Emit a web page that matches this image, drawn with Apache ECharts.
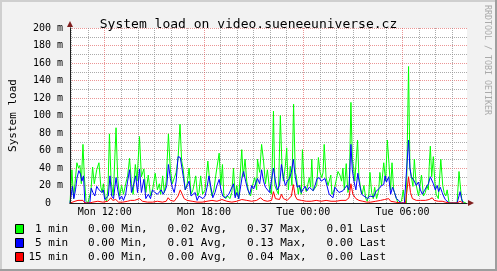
<!DOCTYPE html>
<html><head><meta charset="utf-8">
<script src="https://cdn.jsdelivr.net/npm/echarts@6/dist/echarts.min.js"></script>
<style>html,body{margin:0;padding:0;background:#f2f2f2}#c{width:497px;height:271px}</style>
</head><body><div id="c"></div>
<script>
const TITLE = 'System load on video.sueneeuniverse.cz';
const Y_NAME = 'System load';
const WATERMARK = 'RRDTOOL / TOBI OETIKER';
// window start: Mon 09:54 (minutes since Mon 00:00), window length 24 h
const START_MIN = 594;
const SPAN_MIN = 1440;
const DAYS = ['Mon', 'Tue'];
const xTickLabels = ['Mon 12:00', 'Mon 18:00', 'Tue 00:00', 'Tue 06:00'];
const yMax = 200, yStep = 20;

const seriesNames = ['1 min', '5 min', '15 min'];
const seriesColors = ['#00ff00', '#0000ff', '#ff0000'];
const statMin = ['0.00', '0.00', '0.00'];
const statAvg = ['0.02', '0.01', '0.00'];
const statMax = ['0.37', '0.13', '0.04'];
const statLast = ['0.01', '0.00', '0.00'];

// [minutes since window start, load in milli]
const load1 = [[0,0],[4,0],[7,38],[13,5],[18,22],[25,46],[31,40],[36,43],[41,22],[47,67],[52,30],[58,3],[65,0],[72,0],[76,14],[82,41],[88,22],[97,38],[105,46],[112,18],[117,12],[121,22],[128,5],[133,2],[138,18],[143,79],[149,25],[157,8],[167,86],[173,28],[180,8],[187,20],[194,10],[202,22],[209,31],[216,51],[223,22],[229,10],[237,44],[243,25],[252,76],[259,30],[268,39],[275,12],[284,32],[292,8],[299,14],[309,34],[317,15],[324,22],[329,10],[336,31],[342,12],[349,25],[357,79],[364,38],[371,22],[378,20],[385,35],[392,51],[399,90],[405,48],[410,40],[418,15],[425,22],[432,40],[439,10],[446,15],[456,31],[463,8],[468,12],[474,31],[481,10],[490,15],[500,48],[508,20],[515,8],[522,15],[529,32],[541,57],[547,20],[553,44],[558,8],[565,5],[572,8],[580,5],[587,12],[593,40],[599,8],[605,20],[612,5],[623,61],[628,30],[635,50],[641,25],[648,12],[655,8],[662,20],[670,29],[677,15],[680,50],[688,35],[695,67],[702,48],[709,22],[716,38],[724,15],[731,10],[738,105],[743,20],[749,15],[756,10],[763,100],[769,40],[774,25],[781,42],[786,63],[792,15],[799,42],[805,20],[811,113],[817,35],[821,31],[828,10],[833,20],[839,10],[843,61],[850,20],[857,13],[862,15],[868,29],[873,18],[877,50],[882,14],[889,12],[895,20],[901,52],[907,35],[913,29],[918,35],[922,67],[929,29],[936,20],[946,32],[950,10],[958,15],[965,25],[972,36],[979,32],[985,25],[990,40],[995,15],[1002,45],[1008,12],[1013,20],[1019,115],[1024,50],[1029,40],[1033,25],[1043,72],[1048,30],[1055,15],[1060,10],[1066,20],[1073,5],[1078,2],[1084,10],[1088,35],[1094,12],[1100,5],[1105,18],[1112,5],[1120,15],[1124,35],[1130,20],[1138,46],[1145,25],[1151,72],[1157,45],[1163,15],[1168,46],[1174,15],[1178,15],[1184,5],[1190,0],[1195,0],[1202,2],[1209,15],[1213,3],[1220,0],[1228,156],[1233,40],[1238,30],[1244,19],[1249,50],[1256,20],[1264,8],[1271,10],[1275,32],[1282,8],[1289,12],[1294,20],[1300,15],[1303,42],[1307,65],[1312,30],[1318,53],[1323,25],[1328,10],[1336,5],[1345,50],[1352,20],[1357,12],[1363,8],[1368,15],[1375,0],[1382,0],[1390,0],[1397,0],[1404,0],[1411,36],[1417,15],[1422,2],[1429,0],[1436,0]];

const load5 = [[0,0],[5,0],[9,19],[14,5],[20,15],[25,28],[32,37],[38,33],[43,25],[49,31],[54,0],[61,0],[72,0],[77,17],[83,12],[90,8],[97,19],[103,16],[108,15],[115,12],[121,15],[126,4],[133,4],[139,8],[145,31],[151,8],[158,5],[167,29],[173,15],[180,4],[187,8],[194,3],[202,10],[209,25],[216,38],[223,12],[230,20],[238,31],[245,12],[252,39],[259,12],[268,27],[275,5],[284,10],[292,5],[299,15],[308,12],[317,10],[324,8],[331,15],[338,10],[346,15],[351,20],[357,44],[364,28],[371,18],[378,12],[385,25],[392,53],[400,52],[407,50],[412,28],[418,15],[425,20],[432,25],[439,8],[446,10],[454,12],[461,3],[468,8],[475,10],[482,5],[490,8],[497,18],[504,31],[511,18],[518,6],[526,12],[533,20],[541,27],[547,16],[554,8],[562,6],[569,8],[576,10],[583,8],[593,22],[599,6],[605,12],[612,5],[617,15],[625,31],[630,36],[637,25],[644,16],[652,10],[659,20],[666,16],[673,15],[680,28],[688,22],[695,38],[702,25],[709,18],[716,16],[724,12],[731,10],[738,40],[745,25],[752,15],[760,20],[767,44],[774,30],[781,20],[788,25],[796,28],[803,35],[810,50],[817,30],[824,18],[832,20],[839,12],[846,16],[853,19],[860,14],[868,18],[875,16],[882,14],[889,20],[896,28],[904,29],[911,25],[918,27],[925,28],[932,20],[940,10],[947,8],[954,6],[961,18],[968,20],[976,12],[983,10],[990,14],[997,17],[1004,20],[1012,15],[1019,67],[1024,38],[1030,25],[1037,15],[1044,34],[1051,20],[1058,10],[1066,8],[1073,6],[1080,5],[1087,8],[1094,6],[1102,7],[1109,13],[1116,15],[1123,17],[1130,20],[1138,21],[1143,31],[1148,24],[1156,30],[1163,10],[1170,18],[1177,12],[1184,5],[1192,3],[1199,0],[1206,2],[1213,0],[1220,0],[1228,72],[1233,40],[1238,30],[1244,32],[1249,25],[1256,20],[1264,24],[1271,15],[1278,10],[1285,14],[1292,16],[1300,22],[1307,30],[1313,32],[1318,22],[1325,15],[1332,20],[1337,13],[1343,18],[1350,12],[1355,8],[1361,4],[1368,2],[1375,0],[1404,0],[1411,8],[1415,13],[1420,5],[1426,0]];

const load15 = [[0,0],[7,1],[18,2],[29,3],[36,3],[47,3],[54,0],[72,0],[83,1],[101,2],[119,1],[137,2],[148,6],[155,3],[166,4],[176,1],[191,1],[209,2],[220,3],[234,3],[252,5],[263,2],[281,1],[299,1],[317,2],[335,1],[349,2],[356,6],[364,3],[378,2],[392,8],[400,15],[407,10],[414,5],[425,3],[443,2],[461,1],[479,1],[497,2],[515,3],[533,2],[551,4],[569,2],[587,1],[605,2],[623,4],[641,3],[659,2],[677,3],[691,6],[702,3],[716,2],[731,3],[738,13],[745,5],[760,4],[767,10],[774,5],[788,3],[803,8],[810,21],[817,8],[824,4],[839,3],[857,2],[875,2],[893,3],[911,2],[929,3],[947,2],[965,2],[983,3],[1001,3],[1012,6],[1019,22],[1026,10],[1037,5],[1048,3],[1062,2],[1076,1],[1091,1],[1109,2],[1127,3],[1141,4],[1156,5],[1163,2],[1181,1],[1199,0],[1217,0],[1228,30],[1235,12],[1242,5],[1256,3],[1271,3],[1289,3],[1303,4],[1314,6],[1321,3],[1336,2],[1350,2],[1361,1],[1375,0],[1404,0],[1415,2],[1426,0]];

const loads = [load1, load5, load15];

const MONO = '"DejaVu Sans Mono", monospace';
const GRID_MINOR = 'rgba(143,143,143,0.75)';
const GRID_MAJOR = 'rgba(222,79,79,0.6)';
const AXIS_COL = '#1f1f1f';
const ARROW_COL = '#801f1f';

function labelToOffset(lbl) {
  const [d, hm] = lbl.split(' ');
  const [h, m] = hm.split(':').map(Number);
  return DAYS.indexOf(d) * 1440 + h * 60 + m - START_MIN;
}
const xTickOffsets = xTickLabels.map(labelToOffset);

// hourly grid lines, major every 6 h
const vLines = [];
for (let m = Math.ceil(START_MIN / 60) * 60; m <= START_MIN + SPAN_MIN; m += 60) {
  const major = (m / 60) % 6 === 0;
  vLines.push({
    xAxis: m - START_MIN,
    lineStyle: { color: major ? GRID_MAJOR : GRID_MINOR, type: [1, 1], width: 1 }
  });
}

const legendText = {};
seriesNames.forEach((n, i) => {
  legendText[n] = n.padStart(6) + '   ' + statMin[i] + ' Min,   ' + statAvg[i] + ' Avg,   ' +
    statMax[i] + ' Max,   ' + statLast[i] + ' Last';
});

const chart = echarts.init(document.getElementById('c'), null, { renderer: 'canvas' });
chart.setOption({
  animation: false,
  backgroundColor: '#f2f2f2',
  title: {
    text: TITLE, left: 'center', top: 13,
    textStyle: { fontFamily: MONO, fontSize: 13, fontWeight: 'normal', color: '#000' }
  },
  grid: { left: 67, right: 30, top: 28, bottom: 68, show: true, backgroundColor: '#ffffff', borderWidth: 0 },
  legend: {
    orient: 'vertical', left: 15, top: 222, height: 48, padding: 0, itemGap: 0, itemWidth: 8, itemHeight: 9, itemTextGap: 7,
    selectedMode: false, icon: 'rect',
    itemStyle: { borderColor: '#000', borderWidth: 1 },
    data: seriesNames,
    formatter: n => legendText[n],
    textStyle: { fontFamily: MONO, fontSize: 11, color: '#000', lineHeight: 14 }
  },
  xAxis: [{
    type: 'value', min: 0, max: SPAN_MIN, position: 'bottom', z: 3,
    axisLine: { show: true, onZero: false, lineStyle: { color: AXIS_COL, width: 1 } },
    axisTick: { show: false },
    splitLine: { show: false },
    axisLabel: {
      customValues: xTickOffsets, margin: 4,
      formatter: v => xTickLabels[xTickOffsets.indexOf(v)] || '',
      fontFamily: MONO, fontSize: 10, color: '#000'
    }
  }, {
    type: 'value', min: 0, max: SPAN_MIN, position: 'bottom', z: 0,
    axisLine: { show: true, onZero: false, symbol: ['none', 'triangle'], symbolSize: [6, 6], symbolOffset: [0, 4],
      lineStyle: { color: ARROW_COL, width: 1 } },
    axisTick: { show: false }, axisLabel: { show: false }, splitLine: { show: false }
  }],
  yAxis: [{
    type: 'value', min: 0, max: yMax, interval: yStep, position: 'left', z: 3,
    name: Y_NAME, nameLocation: 'middle', nameGap: 51,
    nameTextStyle: { fontFamily: MONO, fontSize: 11, color: '#000' },
    axisLine: { show: true, lineStyle: { color: AXIS_COL, width: 1 } },
    axisTick: { show: false },
    splitLine: { show: false },
    axisLabel: {
      margin: 7, fontFamily: MONO, fontSize: 10, color: '#000',
      formatter: v => v === 0 ? '0  ' : v + ' m'
    }
  }, {
    type: 'value', min: 0, max: yMax, interval: yStep, position: 'left', z: 0,
    axisLine: { show: true, symbol: ['none', 'triangle'], symbolSize: [6, 6], symbolOffset: [0, 4],
      lineStyle: { color: ARROW_COL, width: 1 } },
    axisTick: { show: false }, axisLabel: { show: false },
    splitLine: { show: true, lineStyle: { color: GRID_MAJOR, type: [1, 1], width: 1 } },
    minorTick: { show: false, splitNumber: 2 },
    minorSplitLine: { show: true, lineStyle: { color: GRID_MINOR, type: [1, 1], width: 1 } }
  }],
  series: seriesNames.map((n, i) => ({
    name: n, type: 'line', xAxisIndex: 0, yAxisIndex: 0,
    data: loads[i], showSymbol: false, symbol: 'none', silent: true, z: 2 + i * 0.1,
    color: seriesColors[i],
    lineStyle: { color: seriesColors[i], width: 1 },
    markLine: i === 0 ? {
      z: 1, silent: true, symbol: ['none', 'none'], label: { show: false },
      animation: false, data: vLines
    } : undefined
  })),
  graphic: [
    { type: 'rect', shape: { x: 0, y: 0, width: 497, height: 2 }, style: { fill: '#cfcfcf' }, silent: true },
    { type: 'rect', shape: { x: 0, y: 0, width: 2, height: 271 }, style: { fill: '#cfcfcf' }, silent: true },
    { type: 'rect', shape: { x: 0, y: 269, width: 497, height: 2 }, style: { fill: '#9e9e9e' }, silent: true },
    { type: 'rect', shape: { x: 495, y: 0, width: 2, height: 271 }, style: { fill: '#9e9e9e' }, silent: true },
    { type: 'text', x: 487.5, y: 60, rotation: -Math.PI / 2, silent: true,
      style: { text: WATERMARK, font: '8.3px "DejaVu Sans Mono"', fill: '#aaaaaa', align: 'center', verticalAlign: 'middle' } }
  ]
});
</script></body></html>
